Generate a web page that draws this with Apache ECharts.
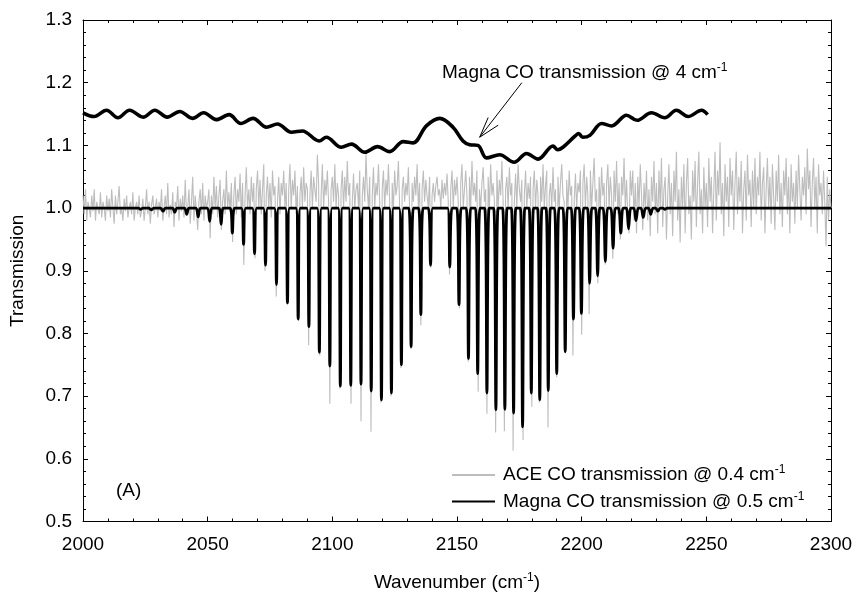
<!DOCTYPE html>
<html>
<head>
<meta charset="utf-8">
<script src="https://cdn.jsdelivr.net/npm/echarts@6/dist/echarts.min.js"></script>
<style>
html,body{margin:0;padding:0;background:#fff;}
#chart{width:856px;height:597px;}
</style>
</head>
<body>
<div id="chart"></div>
<script>
// ---------- DATA ----------
// x-axis / y-axis ticks
const xTicks = [2000, 2050, 2100, 2150, 2200, 2250, 2300];
const yTicks = [0.5, 0.6, 0.7, 0.8, 0.9, 1.0, 1.1, 1.2, 1.3];

// Magna CO transmission @ 0.5 cm-1 : absorption line centres and minimum transmission
const magnaLinePos = [2023.1,2027.4,2032.1,2036.8,2041.6,2046.2,2050.8,2055.4,2059.9,2064.4,2068.8,2073.2,2077.6,2082.0,2086.3,2090.6,2094.8,2099.0,2103.2,2107.4,2111.5,2115.6,2119.7,2123.7,2127.7,2131.6,2135.5,2139.4,
  2147.1,2150.8,2154.6,2158.3,2162.0,2165.6,2169.2,2172.7,2176.3,2179.8,2183.2,2186.6,2190.0,2193.4,2196.7,2199.9,2203.2,2206.4,2209.5,2212.6,2215.7,2218.8,2221.8,2224.7,2227.7,2230.6,2233.4];
const magnaLineDepth = [0.998,0.997,0.995,0.993,0.990,0.986,0.979,0.974,0.960,0.942,0.927,0.909,0.878,0.849,0.823,0.811,0.770,0.748,0.716,0.717,0.719,0.708,0.694,0.705,0.750,0.779,0.830,0.909,
  0.906,0.846,0.760,0.736,0.705,0.678,0.679,0.673,0.651,0.705,0.694,0.709,0.736,0.771,0.823,0.832,0.880,0.892,0.915,0.936,0.960,0.967,0.980,0.985,0.990,0.995,0.998];
const magnaBaseline = 1.0;
const magnaHalfWidth = 0.9;

// Magna CO transmission @ 4 cm-1 (offset curve)
const magna4X = [2000,2004.4,2009.4,2014.0,2018.7,2024.1,2028.8,2033.8,2038.8,2043.9,2048.4,2053.5,2058.6,2063.3,2068.2,2073.6,2078.0,2083.6,2088.0,2094.7,2097.6,2103.6,2107.7,2113.0,2118.1,2123.0,2128.4,2132.4,2137.7,2143.1,2148.4,2152.4,2155.1,2158.4,2161.8,2167.1,2172.9,2177.9,2182.5,2188.5,2190.4,2192.5,2197.4,2198.8,2200.4,2203.3,2208.0,2212.0,2218.0,2222.2,2228.0,2233.3,2238.0,2242.7,2248.1,2250.5];
const magna4Y = [1.152,1.146,1.156,1.144,1.156,1.145,1.156,1.145,1.154,1.143,1.152,1.141,1.149,1.135,1.143,1.129,1.134,1.121,1.123,1.107,1.113,1.097,1.102,1.089,1.098,1.090,1.106,1.104,1.131,1.143,1.129,1.107,1.101,1.100,1.080,1.085,1.073,1.087,1.078,1.099,1.093,1.097,1.115,1.119,1.113,1.116,1.135,1.131,1.148,1.140,1.152,1.144,1.156,1.146,1.156,1.149];

// ACE CO transmission @ 0.4 cm-1, sampled every 0.5 cm-1; each row covers 10 cm-1
const aceStep = 0.5;
const ace2000 = [
 [1.02,0.99,1.03,0.98,1.01,1.00,0.985,1.02,0.995,1.03,0.98,1.01,1.00,0.99,1.025,0.985,1.01,1.00,0.98,1.02],
 [0.995,1.015,0.985,1.03,1.00,0.975,1.02,0.99,1.01,1.035,0.99,1.00,0.98,1.015,0.995,1.02,0.985,1.00,1.01,0.99],
 [1.025,0.98,1.00,1.01,0.99,1.02,0.985,0.995,1.015,0.98,1.00,1.03,0.99,1.01,0.975,1.005,1.02,0.99,1.00,1.015],
 [0.985,1.01,0.995,1.03,0.98,1.00,1.02,0.99,1.04,0.985,1.005,0.99,1.025,0.97,1.01,1.00,1.035,0.98,1.015,0.995],
 [1.02,0.985,1.045,0.99,1.00,1.03,0.975,1.01,1.05,0.98,1.02,0.995,0.965,1.01,1.03,0.99,1.04,0.98,1.02,1.00]
];
const ace2050 = [
 [1.01,1.03,0.952,1.02,0.99,1.05,1.00,1.035,0.985,1.02,1.045,0.965,1.01,1.03,0.99,1.06,1.00,1.025,0.995,1.04],
 [0.946,1.02,1.05,0.99,1.03,1.01,1.055,0.985,1.04,0.909,1.02,1.065,1.00,1.03,0.99,1.05,1.01,1.04,0.92,1.03],
 [1.06,1.00,1.045,0.99,1.03,1.07,0.90,1.02,1.05,1.00,1.04,0.985,1.06,1.02,1.035,0.859,1.01,1.05,0.99,1.04],
 [1.02,1.06,1.00,1.04,0.845,1.03,1.07,1.00,1.045,1.02,1.06,0.99,1.035,0.82,1.02,1.05,1.00,1.065,1.01,1.04],
 [1.03,0.781,1.02,1.06,1.00,1.05,1.03,1.01,1.085,1.04,0.765,1.02,1.07,1.00,1.045,1.02,1.06,1.01,0.688,1.03]
];
const ace2100 = [
 [1.05,1.01,1.07,1.00,1.04,1.02,0.712,1.03,1.06,1.00,1.05,1.01,1.075,1.02,1.04,0.688,1.01,1.055,1.00,1.03],
 [1.04,1.00,1.06,0.660,1.02,1.05,1.01,1.086,1.03,1.00,1.05,0.643,1.02,1.065,1.00,1.04,1.02,1.07,1.01,0.69],
 [1.03,1.06,1.00,1.045,1.02,1.07,1.01,0.70,1.04,1.00,1.06,1.02,1.035,1.075,1.00,0.745,1.03,1.05,1.01,1.04],
 [1.02,1.065,1.00,0.775,1.04,1.01,1.05,1.02,1.07,1.00,1.04,0.813,1.03,1.06,1.01,1.045,1.02,1.00,1.05,0.905],
 [1.02,1.04,1.01,1.035,1.05,1.02,1.03,1.00,1.045,1.015,1.04,1.02,1.055,1.01,0.894,1.03,1.06,1.00,1.045,1.02]
];
const ace2150 = [
 [1.05,1.01,0.84,1.04,1.07,1.00,1.03,1.06,1.02,0.755,1.05,1.00,1.075,1.02,1.04,1.01,1.06,0.707,1.03,1.00],
 [1.04,1.065,1.01,1.03,0.672,1.05,1.00,1.07,1.02,1.04,1.01,0.642,1.06,1.00,1.045,1.02,1.075,1.01,0.644,1.03],
 [1.05,1.00,1.065,1.02,1.04,0.613,1.01,1.055,1.00,1.07,1.03,1.01,1.045,0.630,1.02,1.06,1.00,1.04,1.015,1.05],
 [0.683,1.03,1.06,1.00,1.045,1.02,0.69,1.05,1.01,1.07,1.00,1.035,1.06,0.650,1.02,1.04,1.00,1.065,1.01,1.03],
 [0.73,1.05,1.00,1.04,1.07,1.02,1.01,0.768,1.045,1.00,1.06,1.02,1.035,0.765,1.01,1.055,1.00,1.04,1.025,1.06]
];
const ace2200 = [
 [0.798,1.04,1.07,1.00,1.05,1.02,0.831,1.06,1.00,1.04,1.08,1.01,1.03,0.88,1.05,1.00,1.065,1.02,1.04,0.91],
 [1.04,1.07,1.00,1.05,1.02,0.919,1.06,1.01,1.075,0.99,1.04,0.95,1.05,1.02,1.08,1.00,1.045,0.985,0.96,1.06],
 [1.02,1.06,0.98,1.04,0.96,1.05,1.00,1.07,1.02,0.965,1.04,1.00,1.06,0.98,1.03,0.955,1.05,1.01,1.075,0.99],
 [1.04,0.96,1.06,1.00,1.08,0.97,1.03,1.05,0.95,1.02,1.07,0.99,1.04,0.955,1.06,1.01,1.09,0.98,1.03,0.945],
 [1.05,1.00,1.07,0.96,1.04,1.08,0.99,1.02,0.95,1.06,1.01,1.075,0.97,1.04,1.09,0.99,1.03,0.96,1.065,1.00]
];
const ace2250 = [
 [1.04,0.97,1.08,1.01,1.05,0.96,1.03,1.09,0.98,1.06,1.02,1.105,0.99,1.04,0.955,1.07,1.01,1.05,0.97,1.08],
 [1.02,1.06,0.965,1.04,1.09,0.99,1.05,1.01,1.075,0.96,1.03,1.06,0.98,1.085,1.02,1.045,0.97,1.06,1.00,1.08],
 [0.99,1.05,1.02,1.09,0.98,1.04,1.065,0.96,1.03,1.08,1.00,1.05,0.975,1.07,1.02,0.965,1.06,1.01,1.085,0.99],
 [1.04,0.97,1.06,1.02,1.08,0.99,1.05,0.96,1.07,1.01,1.04,0.975,1.06,1.00,1.085,1.03,0.98,1.05,1.02,1.065],
 [0.99,1.095,1.03,1.06,0.97,1.04,1.08,1.00,1.05,0.96,1.07,1.02,1.04,0.99,1.06,1.01,0.939,1.05,0.98,1.03]
];
const aceEnd = [2300, 1.00];

// ---------- BUILD SERIES DATA ----------
const aceBlocks = [[2000, ace2000],[2050, ace2050],[2100, ace2100],[2150, ace2150],[2200, ace2200],[2250, ace2250]];
const aceData = [];
aceBlocks.forEach(([start, rows]) => {
  rows.forEach((row, r) => {
    row.forEach((v, j) => aceData.push([start + r * 10 + j * aceStep, v]));
  });
});
aceData.push(aceEnd);

const magna05Data = [[2000, magnaBaseline]];
magnaLinePos.forEach((c, i) => {
  magna05Data.push([c - magnaHalfWidth, magnaBaseline]);
  magna05Data.push([c, magnaLineDepth[i]]);
  magna05Data.push([c + magnaHalfWidth, magnaBaseline]);
});
magna05Data.push([2300, magnaBaseline]);

const magna4Data = magna4X.map((x, i) => [x, magna4Y[i]]);

// ---------- CHART ----------
const FONT = 'Liberation Sans, Arial, Helvetica, sans-serif';
const chart = echarts.init(document.getElementById('chart'), null, {renderer: 'canvas'});

const axisCommon = {
  axisLine: {show: true, lineStyle: {color: '#000', width: 1}},
  axisTick: {show: true, inside: true, length: 5, lineStyle: {color: '#000'}},
  minorTick: {show: true, splitNumber: 5, length: 3, lineStyle: {color: '#000'}},
  splitLine: {show: false},
  minorSplitLine: {show: false}
};

const option = {
  animation: false,
  backgroundColor: '#fff',
  grid: {left: 83, right: 25, top: 20, bottom: 72, containLabel: false},
  xAxis: [
    Object.assign({
      type: 'value', min: xTicks[0], max: xTicks[xTicks.length - 1], interval: 50, position: 'bottom',
      axisLabel: {fontFamily: FONT, fontSize: 19, color: '#000', margin: 14, formatter: v => String(v)},
      name: '{t|Wavenumber (cm}{s|-1}{t|)}', nameLocation: 'middle', nameGap: 50,
      nameTextStyle: {rich: {
        t: {fontFamily: FONT, fontSize: 19, color: '#000', lineHeight: 22},
        s: {fontFamily: FONT, fontSize: 12, color: '#000', lineHeight: 12, verticalAlign: 'top'}
      }}
    }, axisCommon),
    Object.assign({
      type: 'value', min: xTicks[0], max: xTicks[xTicks.length - 1], interval: 50, position: 'top',
      axisLabel: {show: false}
    }, axisCommon)
  ],
  yAxis: [
    Object.assign({
      type: 'value', min: yTicks[0], max: yTicks[yTicks.length - 1], interval: 0.1, position: 'left',
      axisLabel: {fontFamily: FONT, fontSize: 19, color: '#000', margin: 11, formatter: v => v.toFixed(1)},
      name: 'Transmission', nameLocation: 'middle', nameGap: 56, nameRotate: 90,
      nameTextStyle: {fontFamily: FONT, fontSize: 19, color: '#000'}
    }, axisCommon),
    Object.assign({
      type: 'value', min: yTicks[0], max: yTicks[yTicks.length - 1], interval: 0.1, position: 'right',
      axisLabel: {show: false}
    }, axisCommon)
  ],
  legend: {
    show: true,
    orient: 'vertical',
    left: 451, top: 464, padding: 0,
    itemWidth: 43, itemHeight: 20, itemGap: 6,
    itemStyle: {opacity: 0},
    data: ['ACE', 'Magna05'],
    formatter: function (name) {
      return name === 'ACE'
        ? '{t|ACE CO transmission @ 0.4 cm}{s|-1}'
        : '{t|Magna CO transmission @ 0.5 cm}{s|-1}';
    },
    textStyle: {rich: {
      t: {fontFamily: FONT, fontSize: 19, color: '#000', lineHeight: 22, padding: [0, 0, 0, 3]},
      s: {fontFamily: FONT, fontSize: 12, color: '#000', lineHeight: 12, verticalAlign: 'top'}
    }}
  },
  series: [
    {
      name: 'ACE', type: 'line', data: aceData, symbol: 'none', showSymbol: false,
      lineStyle: {color: '#bdbdbd', width: 1.1}, itemStyle: {color: '#bdbdbd'},
      z: 2, silent: true
    },
    {
      name: 'Magna05', type: 'line', data: magna05Data, symbol: 'none', showSymbol: false, smooth: 0.3,
      lineStyle: {color: '#000', width: 2.8}, itemStyle: {color: '#000'},
      z: 3, silent: true
    },
    {
      name: 'Magna4', type: 'line', data: magna4Data, symbol: 'none', showSymbol: false, smooth: 0.35,
      lineStyle: {color: '#000', width: 3.6}, itemStyle: {color: '#000'},
      z: 4, silent: true,
      markLine: {
        silent: true, symbol: 'none', animation: false,
        label: {show: false},
        lineStyle: {color: '#000', width: 1, type: 'solid'},
        data: [
          [{coord: [2176.0, 1.200]}, {coord: [2159.1, 1.113]}],
          [{coord: [2162.5, 1.1444]}, {coord: [2159.1, 1.113]}],
          [{coord: [2166.5, 1.1322]}, {coord: [2159.1, 1.113]}]
        ]
      }
    }
  ],
  graphic: [
    {
      type: 'text', left: 442, top: 62, silent: true,
      style: {
        text: '{t|Magna CO transmission @ 4 cm}{s|-1}',
        rich: {
          t: {fontFamily: FONT, fontSize: 19, fill: '#000', lineHeight: 22},
          s: {fontFamily: FONT, fontSize: 12, fill: '#000', lineHeight: 12, verticalAlign: 'top'}
        }
      }
    },
    {
      type: 'text', left: 116, top: 481, silent: true,
      style: {text: '(A)', fontFamily: FONT, fontSize: 19, fill: '#000'}
    }
  ]
};
chart.setOption(option);
</script>
</body>
</html>
